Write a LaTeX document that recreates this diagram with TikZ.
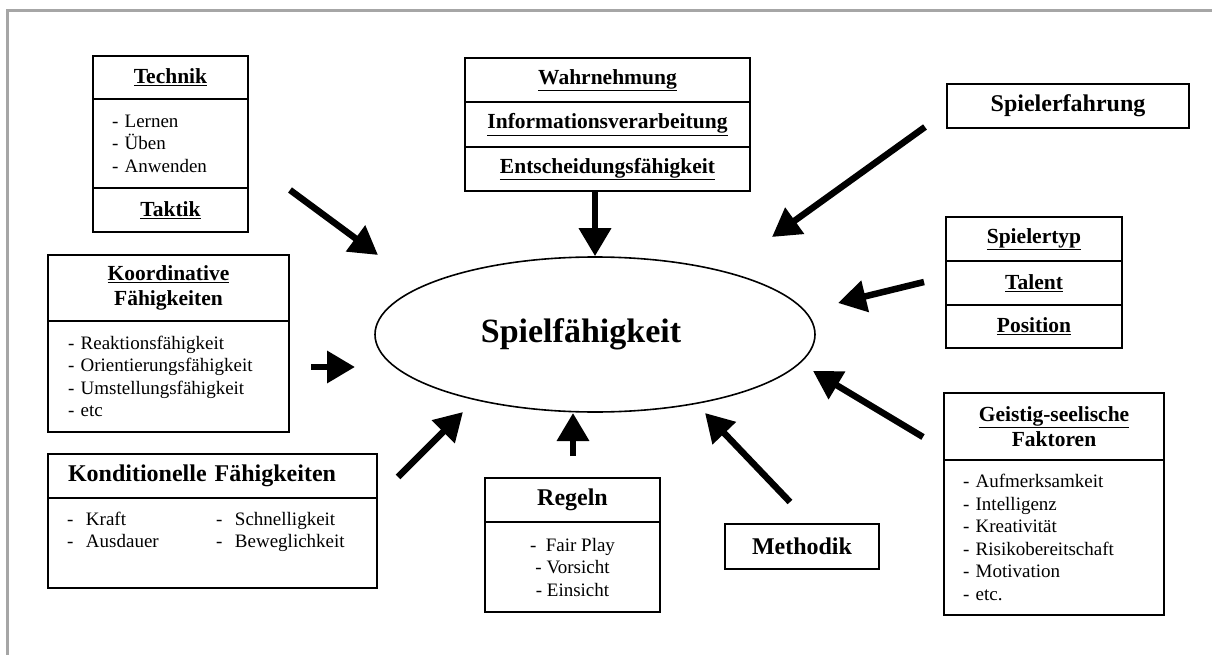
\documentclass[tikz,border=0pt]{standalone}
\usepackage{fontspec}
\setmainfont{Liberation Serif}
\usetikzlibrary{arrows.meta,positioning,shapes.geometric}

\newcommand{\titelfont}{\fontsize{34}{40}\selectfont\bfseries}
\newcommand{\kopffont}{\fontsize{21.5}{25.5}\selectfont\bfseries}
\newcommand{\grossfont}{\fontsize{24}{28}\selectfont\bfseries}
\newcommand{\punktfont}{\fontsize{19}{22.5}\selectfont}

\tikzset{
  zelle/.style={draw, line width=2pt, inner sep=0pt, outer sep=0pt, align=center, font=\kopffont},
  liste/.style={zelle, font=\punktfont, align=left},
  pfeil/.style={line width=6.5pt, -{Triangle[width=31pt,length=28pt]}},
  rahmen/.style={black!35, line width=3pt}
}

\begin{document}
\begin{tikzpicture}[x=1pt,y=-1pt]
  \useasboundingbox (0,0) rectangle (1212,655);
  % Page frame
  \draw[rahmen] (7,655) -- (7,11) -- (1212,11);

  % Centre
  \node[draw, ellipse, line width=1.6pt, minimum width=440pt, minimum height=155pt, font=\titelfont] (spiel) at (595,334.5) {Spielfähigkeit\hspace*{28pt}};

  % Technik / Taktik
  \node[zelle, anchor=north west, minimum width=155pt, minimum height=43pt] (technik) at (93,56) {\underline{Technik}};
  \node[liste, below=0pt of technik, text width=117pt, inner xsep=19pt, minimum height=89pt] (technikL) {- Lernen\\- Üben\\- Anwenden};
  \node[zelle, below=0pt of technikL, minimum width=155pt, minimum height=44pt] (taktik) {\underline{Taktik}};

  % Wahrnehmung
  \node[zelle, anchor=north west, minimum width=285pt, minimum height=44pt] (wahr) at (465,58) {\underline{Wahrnehmung}};
  \node[zelle, below=0pt of wahr, minimum width=285pt, minimum height=45pt] (info) {\underline{Informationsverarbeitung}};
  \node[zelle, below=0pt of info, minimum width=285pt, minimum height=44pt] (entsch) {\underline{Entscheidungsfähigkeit}};

  % Spielerfahrung
  \node[zelle, font=\grossfont, anchor=north west, minimum width=242pt, minimum height=44pt] (erfahrung) at (947,84) {Spielerfahrung};

  % Spielertyp
  \node[zelle, anchor=north west, minimum width=176pt, minimum height=44pt] (typ) at (946,217) {\underline{Spielertyp}};
  \node[zelle, below=0pt of typ, minimum width=176pt, minimum height=44pt] (talent) {\underline{Talent}};
  \node[zelle, below=0pt of talent, minimum width=176pt, minimum height=43pt] (position) {\underline{Position}};

  % Koordinative Faehigkeiten
  \node[zelle, anchor=north west, minimum width=241pt, minimum height=66pt] (koord) at (48,255) {\underline{Koordinative}\\Fähigkeiten};
  \node[liste, below=0pt of koord, text width=201pt, inner xsep=20pt, minimum height=111pt] (koordL) {- Reaktionsfähigkeit\\- Orientierungsfähigkeit\\- Umstellungsfähigkeit\\- etc};

  % Konditionelle Faehigkeiten
  \node[zelle, font=\grossfont, align=left, anchor=north west, text width=289pt, inner xsep=20pt, minimum height=44pt] (kond) at (48,454) {Konditionelle Fähigkeiten};
  \node[liste, below=0pt of kond, text width=291pt, inner xsep=19pt, minimum height=90pt] (kondL) {\begin{tabular}{@{}p{149pt}@{}l@{}}-~~Kraft & -~~Schnelligkeit\\ -~~Ausdauer & -~~Beweglichkeit\\ & \end{tabular}};

  % Regeln
  \node[zelle, font=\grossfont, anchor=north west, minimum width=175pt, minimum height=44pt] (regeln) at (485,478) {Regeln};
  \node[liste, below=0pt of regeln, align=center, minimum width=175pt, minimum height=90pt] (regelnL) {-~~Fair Play\\- Vorsicht\\- Einsicht};

  % Methodik
  \node[zelle, font=\grossfont, anchor=north west, minimum width=154pt, minimum height=45pt] (methodik) at (725,524) {Methodik};

  % Geistig-seelische Faktoren
  \node[zelle, anchor=north west, minimum width=220pt, minimum height=67pt] (geist) at (944,393) {\underline{Geistig-seelische}\\Faktoren};
  \node[liste, below=0pt of geist, text width=182pt, inner xsep=19pt, minimum height=155pt] (geistL) {- Aufmerksamkeit\\- Intelligenz\\- Kreativität\\- Risikobereitschaft\\- Motivation\\- etc.};

  % Arrow ends
  \coordinate (techS) at (290,190);  \coordinate (techE) at (378,255);
  \coordinate (erfS) at (925,127);   \coordinate (erfE) at (772,237);
  \coordinate (typS) at (924,282);   \coordinate (typE) at (838,303);
  \coordinate (geistS) at (923,437); \coordinate (geistE) at (813,371);
  \coordinate (methS) at (790,502);  \coordinate (methE) at (705,413);
  \coordinate (regS) at (573,456);   \coordinate (regE) at (573,413);
  \coordinate (kondS) at (398,477);  \coordinate (kondE) at (463,412);
  \coordinate (koordS) at (311,367); \coordinate (koordE) at (355,367);

  % Arrows
  \draw[pfeil] (techS) -- (techE);
  \draw[pfeil] (spiel.north |- entsch.south) -- (spiel.north);
  \draw[pfeil] (erfS) -- (erfE);
  \draw[pfeil] (typS) -- (typE);
  \draw[pfeil] (geistS) -- (geistE);
  \draw[pfeil] (methS) -- (methE);
  \draw[pfeil] (regS) -- (regE);
  \draw[pfeil] (kondS) -- (kondE);
  \draw[pfeil] (koordS) -- (koordE);
\end{tikzpicture}
\end{document}
